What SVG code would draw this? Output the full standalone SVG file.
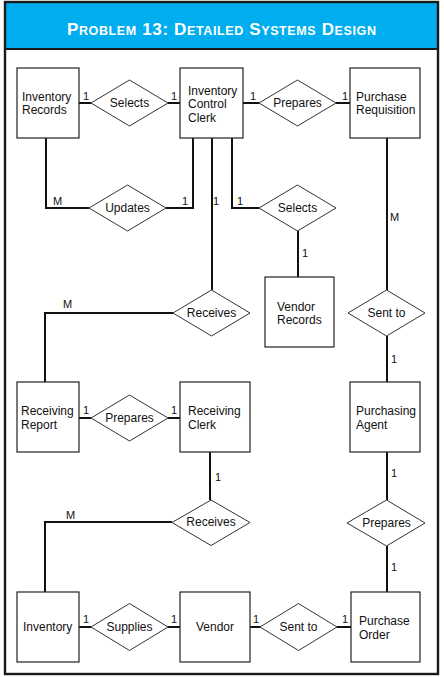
<svg xmlns="http://www.w3.org/2000/svg" width="444" height="677" viewBox="0 0 444 677">
<style>
  .box { fill: #ffffff; stroke: #222222; stroke-width: 1.2; }
  .rel { fill: #ffffff; stroke: #333333; stroke-width: 1; }
  .conn { fill: none; stroke: #111111; stroke-width: 2; }
  .t { font-family: "Liberation Sans", Arial, sans-serif; font-size: 12px; fill: #111111; }
  .rt { font-family: "Liberation Sans", Arial, sans-serif; font-size: 12px; fill: #111111; text-anchor: middle; }
  .card { font-family: "Liberation Sans", Arial, sans-serif; font-size: 11px; fill: #111111; }
  .title { font-family: "Liberation Sans", Arial, sans-serif; font-weight: bold; fill: #ffffff; }
  .big { font-size: 17px; }
  .sm { font-size: 12.5px; }
</style>
<rect x="0" y="0" width="444" height="677" fill="#ffffff"/>
<g id="frame">
  <rect x="5" y="2" width="433" height="47" fill="#00aeef"/>
  <rect x="5" y="2" width="433" height="672" fill="none" stroke="#1a1a1a" stroke-width="2.4"/>
  <line x1="5" y1="49" x2="438" y2="49" stroke="#1a1a1a" stroke-width="2"/>
  <text class="title" x="67" y="35" textLength="309" lengthAdjust="spacing"><tspan class="big">P</tspan><tspan class="sm">ROBLEM</tspan><tspan class="big"> 13: D</tspan><tspan class="sm">ETAILED</tspan><tspan class="big"> S</tspan><tspan class="sm">YSTEMS</tspan><tspan class="big"> D</tspan><tspan class="sm">ESIGN</tspan></text>
</g>
<g id="connectors">
  <path class="conn" d="M79,103 H91"/>
  <path class="conn" d="M168,103 H180"/>
  <path class="conn" d="M243,103 H259"/>
  <path class="conn" d="M336,103 H350"/>
  <path class="conn" d="M46,138 V208 H89"/>
  <path class="conn" d="M166,208 H193 V138"/>
  <path class="conn" d="M212,138 V290"/>
  <path class="conn" d="M232,138 V208 H259"/>
  <path class="conn" d="M298,231 V277"/>
  <path class="conn" d="M387,138 V290"/>
  <path class="conn" d="M387,336 V382"/>
  <path class="conn" d="M173,313 H45 V382"/>
  <path class="conn" d="M79,418 H91"/>
  <path class="conn" d="M168,418 H180"/>
  <path class="conn" d="M210,452 V500"/>
  <path class="conn" d="M172,522 H45 V592"/>
  <path class="conn" d="M387,452 V500"/>
  <path class="conn" d="M387,546 V592"/>
  <path class="conn" d="M79,627 H91"/>
  <path class="conn" d="M168,627 H180"/>
  <path class="conn" d="M250,627 H260"/>
  <path class="conn" d="M337,627 H351"/>
  <text class="card" x="83" y="100">1</text>
  <text class="card" x="171" y="100">1</text>
  <text class="card" x="250" y="100">1</text>
  <text class="card" x="342" y="100">1</text>
  <text class="card" x="53" y="205">M</text>
  <text class="card" x="182" y="205">1</text>
  <text class="card" x="213" y="205">1</text>
  <text class="card" x="237" y="205">1</text>
  <text class="card" x="390" y="221">M</text>
  <text class="card" x="302" y="257">1</text>
  <text class="card" x="63" y="308">M</text>
  <text class="card" x="391" y="363">1</text>
  <text class="card" x="83" y="414">1</text>
  <text class="card" x="171" y="414">1</text>
  <text class="card" x="215" y="481">1</text>
  <text class="card" x="391" y="477">1</text>
  <text class="card" x="66" y="519">M</text>
  <text class="card" x="391" y="571">1</text>
  <text class="card" x="83" y="623">1</text>
  <text class="card" x="171" y="623">1</text>
  <text class="card" x="253" y="623">1</text>
  <text class="card" x="342" y="623">1</text>
</g>
<g id="inventory-records">
  <rect class="box" x="17" y="68" width="62" height="70"/>
  <text class="t" x="22" y="101">Inventory</text>
  <text class="t" x="22" y="114">Records</text>
</g>
<g id="inventory-control-clerk">
  <rect class="box" x="180" y="68" width="63" height="70"/>
  <text class="t" x="188" y="94.5">Inventory</text>
  <text class="t" x="188" y="108">Control</text>
  <text class="t" x="188" y="121.5">Clerk</text>
</g>
<g id="purchase-requisition">
  <rect class="box" x="350" y="68" width="70" height="70"/>
  <text class="t" x="356" y="101">Purchase</text>
  <text class="t" x="356" y="114">Requisition</text>
</g>
<g id="vendor-records">
  <rect class="box" x="265" y="277" width="69" height="70"/>
  <text class="t" x="277" y="310.5">Vendor</text>
  <text class="t" x="277" y="324">Records</text>
</g>
<g id="receiving-report">
  <rect class="box" x="17" y="382" width="62" height="70"/>
  <text class="t" x="21" y="415">Receiving</text>
  <text class="t" x="21" y="428.5">Report</text>
</g>
<g id="receiving-clerk">
  <rect class="box" x="180" y="382" width="70" height="70"/>
  <text class="t" x="188" y="415">Receiving</text>
  <text class="t" x="188" y="428.5">Clerk</text>
</g>
<g id="purchasing-agent">
  <rect class="box" x="350" y="382" width="70" height="70"/>
  <text class="t" x="356" y="415">Purchasing</text>
  <text class="t" x="356" y="428.5">Agent</text>
</g>
<g id="inventory">
  <rect class="box" x="17" y="592" width="62" height="70"/>
  <text class="t" x="23" y="630.5">Inventory</text>
</g>
<g id="vendor">
  <rect class="box" x="180" y="592" width="70" height="70"/>
  <text class="t" x="196" y="630.5">Vendor</text>
</g>
<g id="purchase-order">
  <rect class="box" x="351" y="592" width="69" height="70"/>
  <text class="t" x="359" y="625">Purchase</text>
  <text class="t" x="359" y="638.5">Order</text>
</g>
<g id="rel-selects-1">
  <polygon class="rel" points="91,103 129.5,80 168,103 129.5,126"/>
  <text class="rt" x="129.5" y="106.5">Selects</text>
</g>
<g id="rel-prepares-1">
  <polygon class="rel" points="259,103 297.5,80 336,103 297.5,126"/>
  <text class="rt" x="297.5" y="106.5">Prepares</text>
</g>
<g id="rel-updates">
  <polygon class="rel" points="89,208 127.5,185 166,208 127.5,231"/>
  <text class="rt" x="127.5" y="211.5">Updates</text>
</g>
<g id="rel-selects-2">
  <polygon class="rel" points="259,208 297.5,185 336,208 297.5,231"/>
  <text class="rt" x="297.5" y="211.5">Selects</text>
</g>
<g id="rel-receives-1">
  <polygon class="rel" points="173,313 211.5,290 250,313 211.5,336"/>
  <text class="rt" x="211.5" y="316.5">Receives</text>
</g>
<g id="rel-sent-to-1">
  <polygon class="rel" points="348,313 386.5,290 425,313 386.5,336"/>
  <text class="rt" x="386.5" y="316.5">Sent to</text>
</g>
<g id="rel-prepares-2">
  <polygon class="rel" points="91,418 129.5,395 168,418 129.5,441"/>
  <text class="rt" x="129.5" y="421.5">Prepares</text>
</g>
<g id="rel-receives-2">
  <polygon class="rel" points="172,522.5 211,500 250,522.5 211,545.5"/>
  <text class="rt" x="211" y="526">Receives</text>
</g>
<g id="rel-prepares-3">
  <polygon class="rel" points="347,523 386.5,500 425,523 386.5,546"/>
  <text class="rt" x="386.5" y="526.5">Prepares</text>
</g>
<g id="rel-supplies">
  <polygon class="rel" points="91,627 129.5,603.5 168,627 129.5,650.5"/>
  <text class="rt" x="129.5" y="630.5">Supplies</text>
</g>
<g id="rel-sent-to-2">
  <polygon class="rel" points="260,627 298.5,603.5 337,627 298.5,650.5"/>
  <text class="rt" x="298.5" y="630.5">Sent to</text>
</g>
</svg>
